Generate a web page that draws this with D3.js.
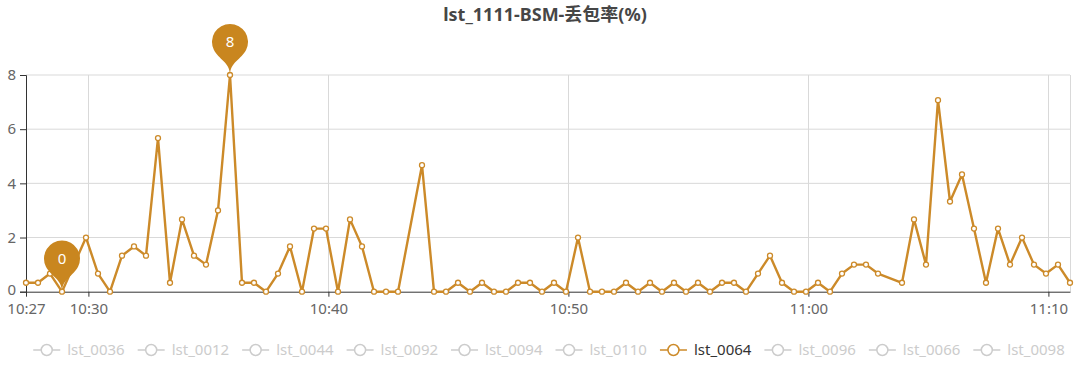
<!DOCTYPE html>
<html>
<head>
<meta charset="utf-8">
<script src="https://cdn.jsdelivr.net/npm/d3@7"></script>
<style>
  body { margin: 0; background: #fff; }
  svg { display: block; font-family: "Noto Sans", "Noto Sans CJK SC", sans-serif; }
</style>
</head>
<body>
<div id="chart"></div>
<script>
const chartTitle = "lst_1111-BSM-丢包率(%)";

const times = [
  "10:27:24", "10:27:54", "10:28:24", "10:28:54", "10:29:54", "10:30:24", "10:30:54", "10:31:24",
  "10:31:54", "10:32:24", "10:32:54", "10:33:24", "10:33:54", "10:34:24", "10:34:54", "10:35:24",
  "10:35:54", "10:36:24", "10:36:54", "10:37:24", "10:37:54", "10:38:24", "10:38:54", "10:39:24",
  "10:39:54", "10:40:24", "10:40:54", "10:41:24", "10:41:54", "10:42:24", "10:42:54", "10:43:54",
  "10:44:24", "10:44:54", "10:45:24", "10:45:54", "10:46:24", "10:46:54", "10:47:24", "10:47:54",
  "10:48:24", "10:48:54", "10:49:24", "10:49:54", "10:50:24", "10:50:54", "10:51:24", "10:51:54",
  "10:52:24", "10:52:54", "10:53:24", "10:53:54", "10:54:24", "10:54:54", "10:55:24", "10:55:54",
  "10:56:24", "10:56:54", "10:57:24", "10:57:54", "10:58:24", "10:58:54", "10:59:24", "10:59:54",
  "11:00:24", "11:00:54", "11:01:24", "11:01:54", "11:02:24", "11:02:54", "11:03:54", "11:04:24",
  "11:04:54", "11:05:24", "11:05:54", "11:06:24", "11:06:54", "11:07:24", "11:07:54", "11:08:24",
  "11:08:54", "11:09:24", "11:09:54", "11:10:24", "11:10:54"
];

const lossRate = [
  0.33, 0.33, 0.67, 0, 2, 0.67, 0, 1.33,
  1.67, 1.33, 5.67, 0.33, 2.67, 1.33, 1, 3,
  8, 0.33, 0.33, 0, 0.67, 1.67, 0, 2.33,
  2.33, 0, 2.67, 1.67, 0, 0, 0, 4.67,
  0, 0, 0.33, 0, 0.33, 0, 0, 0.33,
  0.33, 0, 0.33, 0, 2, 0, 0, 0,
  0.33, 0, 0.33, 0, 0.33, 0, 0.33, 0,
  0.33, 0.33, 0, 0.67, 1.33, 0.33, 0, 0,
  0.33, 0, 0.67, 1, 1, 0.67, 0.33, 2.67,
  1, 7.07, 3.33, 4.33, 2.33, 0.33, 2.33, 1,
  2, 1, 0.67, 1, 0.33
];

const legendNames = ["lst_0036", "lst_0012", "lst_0044", "lst_0092", "lst_0094",
  "lst_0110", "lst_0064", "lst_0096", "lst_0066", "lst_0098"];
const activeSeries = "lst_0064";

const yTicks = [0, 2, 4, 6, 8];
const xTickTimes = ["10:30:00", "10:40:00", "10:50:00", "11:00:00", "11:10:00"];
const axisStart = "10:27:24", axisEnd = "11:10:54";

const lineColor = "#cc8a29";
const pinColor = "#c9861f";

const W = 1080, H = 366;
const margin = { top: 75, right: 10, bottom: 74, left: 26 };

const parseT = d3.timeParse("%H:%M:%S");
const fmt = d3.timeFormat("%H:%M");

const data = times.map((t, i) => ({ t: parseT(t), v: lossRate[i] }));

const svg = d3.select("#chart").append("svg")
  .attr("width", W)
  .attr("height", H);

const x = d3.scaleTime()
  .domain([parseT(axisStart), parseT(axisEnd)])
  .range([margin.left, W - margin.right]);

const y = d3.scaleLinear()
  .domain([0, 8])
  .range([H - margin.bottom - 0.3, margin.top]);

// title
svg.append("text")
  .attr("x", 545)
  .attr("y", 21)
  .attr("text-anchor", "middle")
  .style("font-size", "18px")
  .style("font-weight", "bold")
  .style("fill", "#464646")
  .text(chartTitle);

// grid
const grid = svg.append("g");
grid.selectAll(".hg")
  .data(yTicks.filter(d => d > 0))
  .join("line")
  .attr("x1", margin.left).attr("x2", W - margin.right)
  .attr("y1", d => y(d)).attr("y2", d => y(d))
  .attr("stroke", "#d9d9d9").attr("stroke-width", 1);

const vLines = xTickTimes.map(parseT).concat([parseT(axisEnd)]);
grid.selectAll(".vg")
  .data(vLines)
  .join("line")
  .attr("x1", d => Math.round(x(d)) + 0.5).attr("x2", d => Math.round(x(d)) + 0.5)
  .attr("y1", y(8)).attr("y2", y(0))
  .attr("stroke", "#d9d9d9").attr("stroke-width", 1);

// y axis
const yAxis = svg.append("g")
  .attr("transform", `translate(${margin.left},0)`)
  .call(d3.axisLeft(y).tickValues(yTicks).tickSize(6).tickPadding(4).tickFormat(d3.format("d")));
yAxis.select(".domain").attr("stroke", "#333");
yAxis.selectAll(".tick line").attr("stroke", "#333");
yAxis.selectAll("text")
  .style("font-size", "15px")
  .style("font-family", "Noto Sans, sans-serif")
  .attr("fill", "#666");
// keep the "0" label clear of the first time label below it
yAxis.selectAll(".tick text").filter(d => d === 0).attr("dy", "0.2em");

// x axis
const xTicks = [parseT(axisStart)].concat(xTickTimes.map(parseT));
const xAxis = svg.append("g")
  .attr("transform", `translate(0,${y(0)})`)
  .call(d3.axisBottom(x).tickValues(xTicks).tickSize(5).tickSizeOuter(0).tickPadding(7).tickFormat(fmt));
xAxis.select(".domain").attr("stroke", "#333");
xAxis.selectAll(".tick line").attr("stroke", "#333");
xAxis.selectAll("text")
  .style("font-size", "15px")
  .style("font-family", "Noto Sans, sans-serif")
  .attr("fill", "#666");

// line
const line = d3.line().x(d => x(d.t)).y(d => y(d.v));
svg.append("path")
  .datum(data)
  .attr("fill", "none")
  .attr("stroke", lineColor)
  .attr("stroke-width", 2.4)
  .attr("stroke-linejoin", "round")
  .attr("d", line);

svg.append("g")
  .selectAll("circle")
  .data(data)
  .join("circle")
  .attr("cx", d => x(d.t))
  .attr("cy", d => y(d.v))
  .attr("r", 2.5)
  .attr("fill", "#fff")
  .attr("stroke", lineColor)
  .attr("stroke-width", 1.3);

// mark points (max / min) as pins
function pinPath(r, h) {
  const dy = r * r / (h - r);
  const cy = -h + r + dy;
  const ang = Math.asin(dy / r);
  const dx = Math.cos(ang) * r;
  const tx = Math.sin(ang), ty = Math.cos(ang);
  const c1 = r * 0.6, c2 = r * 0.7;
  const p = d3.path();
  p.moveTo(-dx, cy + dy);
  p.arc(0, cy, r, Math.PI - ang, Math.PI * 2 + ang);
  p.bezierCurveTo(dx - tx * c1, cy + dy + ty * c1, 0, -c2, 0, 0);
  p.bezierCurveTo(0, -c2, -dx + tx * c1, cy + dy + ty * c1, -dx, cy + dy);
  p.closePath();
  return { d: p.toString(), cy: cy };
}

const maxPt = data.reduce((a, b) => (b.v > a.v ? b : a));
const minPt = data.reduce((a, b) => (b.v < a.v ? b : a));
const pin = pinPath(18, 59);

const pins = svg.append("g")
  .selectAll("g")
  .data([maxPt, minPt])
  .join("g")
  .attr("transform", d => `translate(${x(d.t)},${y(d.v)})`);
pins.append("path")
  .attr("d", pin.d)
  .attr("fill", pinColor);
pins.append("text")
  .attr("y", pin.cy + 1)
  .attr("text-anchor", "middle")
  .attr("dominant-baseline", "middle")
  .style("font-size", "15px")
  .attr("fill", "#fff")
  .text(d => d3.format("d")(d.v));

// legend
const legend = svg.append("g");
const items = legend.selectAll("g")
  .data(legendNames)
  .join("g");
items.append("line")
  .attr("x1", 0).attr("x2", 27)
  .attr("y1", 0).attr("y2", 0)
  .attr("stroke", d => d === activeSeries ? lineColor : "#ccc")
  .attr("stroke-width", 1.5);
items.append("circle")
  .attr("cx", 13.5).attr("cy", 0).attr("r", 5.5)
  .attr("fill", "#fff")
  .attr("stroke", d => d === activeSeries ? lineColor : "#ccc")
  .attr("stroke-width", 1.5);
items.append("text")
  .attr("x", 34)
  .attr("dy", "0.35em")
  .style("font-size", "15px")
  .attr("fill", d => d === activeSeries ? "#333" : "#ccc")
  .text(d => d);

let pos = 0;
const offsets = [];
items.each(function () {
  offsets.push(pos);
  const tw = d3.select(this).select("text").node().getComputedTextLength();
  pos += 34 + tw + 13;
});
const totalW = pos - 13;
const lx0 = 549 - totalW / 2;
items.attr("transform", (d, i) => `translate(${lx0 + offsets[i]},350)`);
</script>
</body>
</html>
